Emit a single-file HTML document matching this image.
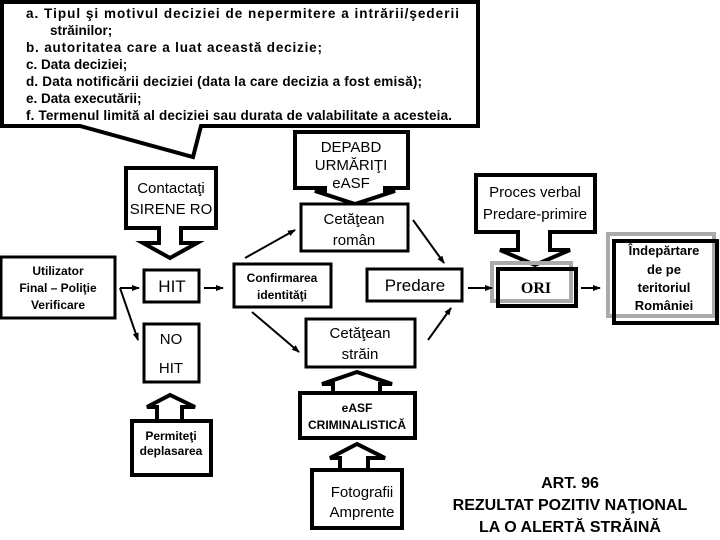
<!DOCTYPE html>
<html><head><meta charset="utf-8"><style>
html,body{margin:0;padding:0;background:#fff;}
svg{display:block;font-family:"Liberation Sans",Arial,sans-serif;}
</style></head><body>
<svg width="720" height="540" viewBox="0 0 720 540" xmlns="http://www.w3.org/2000/svg">
<defs><marker id="a" markerWidth="8" markerHeight="8" refX="7" refY="4" orient="auto" markerUnits="userSpaceOnUse"><path d="M0,1 L8,4 L0,7 z" fill="#000"/></marker></defs>
<g fill="#fff" stroke="#000" stroke-width="4">
<path d="M2,2 H478 V126 H201 L193,157 L80,126 H2 Z"/>
<path d="M126,168 H216 V228 H181 V243 H197 L170,258 L143,243 H159 V228 H126 Z"/>
<path d="M295,132 H408 V188 H385 V191 H395 L355,204 L315,191 H325 V188 H295 Z"/>
<path d="M476,175 H595 V232 H550 V250 H570 L535,265 L500,250 H518 V232 H476 Z"/>
<path d="M132,421 H211 V475 H132 Z M157,421 V407 H147 L170,395 L195,407 H182 V421"/>
<path d="M300,393 H415 V438 H300 Z M333,393 V384 H322 L357,372 L392,384 H380 V393"/>
<path d="M312,470 H402 V528 H312 Z M340,470 V458 H330 L357,444 L385,458 H368 V470"/>
</g>
<g fill="#fff" stroke="#000" stroke-width="3">
<rect x="1" y="257" width="114" height="61"/>
<rect x="144" y="270" width="55" height="32"/>
<rect x="144" y="324" width="55" height="58"/>
<rect x="234" y="264" width="97" height="43"/>
<rect x="301" y="204" width="107" height="47"/>
<rect x="306" y="319" width="109" height="48"/>
<rect x="367" y="269" width="95" height="32"/>
</g>
<rect x="492" y="263" width="79" height="38" fill="none" stroke="#aaa" stroke-width="4"/>
<rect x="498" y="269" width="78" height="37" fill="none" stroke="#000" stroke-width="4"/>
<rect x="608" y="234" width="106" height="82" fill="none" stroke="#aaa" stroke-width="4"/>
<rect x="614" y="241" width="103" height="82" fill="none" stroke="#000" stroke-width="4"/>
<g stroke="#000" stroke-width="2" fill="none" marker-end="url(#a)">
<path d="M120,288 H139"/>
<path d="M120,288 L138,340"/>
<path d="M204,288 H223"/>
<path d="M245,258 L295,230"/>
<path d="M252,312 L299,352"/>
<path d="M413,220 L444,263"/>
<path d="M428,340 L451,308"/>
<path d="M468,288 H492"/>
<path d="M581,288 H600"/>
</g>
<g font-weight="bold" font-size="13.5" fill="#000">
<text x="26" y="18" textLength="433" lengthAdjust="spacing">a. Tipul şi motivul deciziei de nepermitere a intrării/şederii</text>
<text x="50" y="35">străinilor;</text>
<text x="26" y="52" textLength="296" lengthAdjust="spacing">b. autoritatea care a luat această decizie;</text>
<text x="26" y="69">c. Data deciziei;</text>
<text x="26" y="86" textLength="396" lengthAdjust="spacing">d. Data notificării deciziei (data la care decizia a fost emisă);</text>
<text x="26" y="103">e. Data executării;</text>
<text x="26" y="120" textLength="426" lengthAdjust="spacing">f. Termenul limită al deciziei sau durata de valabilitate a acesteia.</text>
</g>
<g font-size="15" text-anchor="middle" fill="#000">
<text x="171" y="193">Contactaţi</text>
<text x="171" y="214">SIRENE RO</text>
<text x="351" y="152">DEPABD</text>
<text x="351" y="170">URMĂRIŢI</text>
<text x="351" y="188">eASF</text>
<text x="354" y="224">Cetăţean</text>
<text x="354" y="245">român</text>
<text x="172" y="292" font-size="17">HIT</text>
<text x="171" y="344">NO</text>
<text x="171" y="373">HIT</text>
<text x="360" y="338">Cetăţean</text>
<text x="360" y="359">străin</text>
<text x="415" y="291" font-size="17">Predare</text>
<text x="535" y="197">Proces verbal</text>
<text x="535" y="219">Predare-primire</text>
<text x="362" y="497">Fotografii</text>
<text x="362" y="517">Amprente</text>
</g>
<g font-size="12" font-weight="bold" text-anchor="middle" fill="#000">
<text x="58" y="275">Utilizator</text>
<text x="58" y="292">Final – Poliţie</text>
<text x="58" y="309">Verificare</text>
<text x="282" y="282">Confirmarea</text>
<text x="282" y="299">identităţi</text>
<text x="171" y="440">Permiteţi</text>
<text x="171" y="455">deplasarea</text>
<text x="357" y="412">eASF</text>
<text x="357" y="429">CRIMINALISTICĂ</text>
</g>
<g font-size="13" font-weight="bold" text-anchor="middle" fill="#000">
<text x="664" y="255">Îndepărtare</text>
<text x="664" y="274">de pe</text>
<text x="664" y="292">teritoriul</text>
<text x="664" y="310">României</text>
</g>
<text x="536" y="293" font-family="Liberation Serif,serif" font-weight="bold" font-size="16" text-anchor="middle">ORI</text>
<g font-size="16" font-weight="bold" text-anchor="middle" fill="#000">
<text x="570" y="488">ART. 96</text>
<text x="570" y="510">REZULTAT POZITIV NAŢIONAL</text>
<text x="570" y="532">LA O ALERTĂ STRĂINĂ</text>
</g>
</svg>
</body></html>
